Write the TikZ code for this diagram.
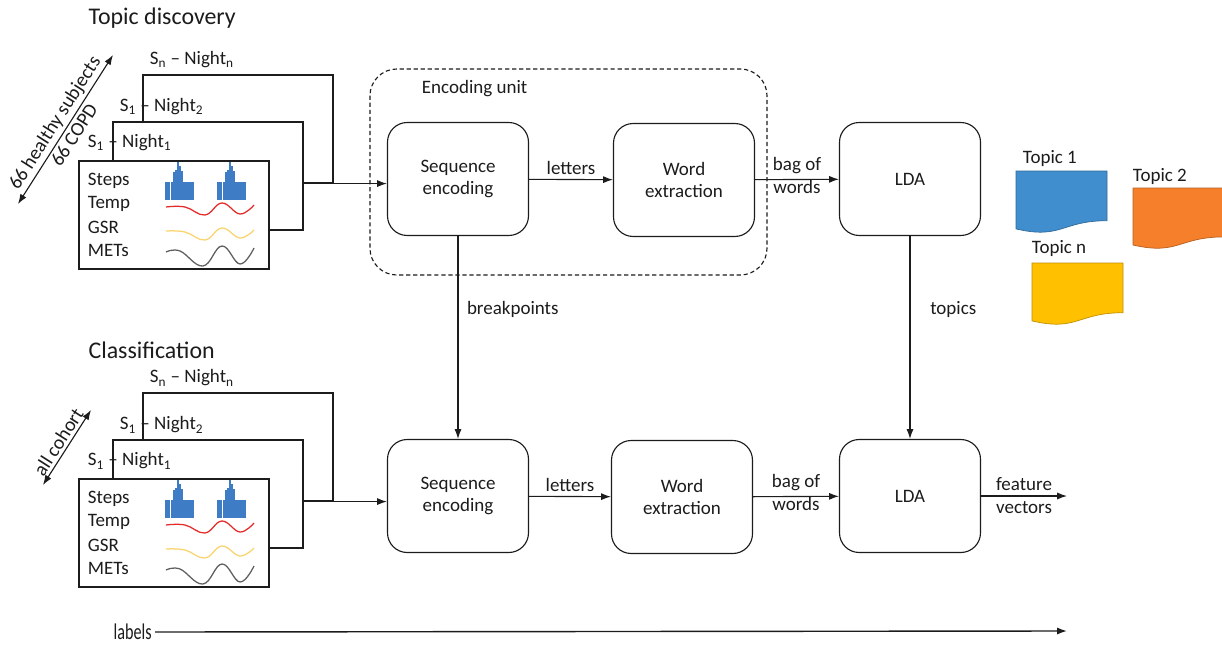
\documentclass[tikz,border=0pt]{standalone}
\usepackage{fontspec}
\setmainfont{Carlito}
\usetikzlibrary{arrows.meta,positioning}
\definecolor{barBlue}{RGB}{62,125,198}
\definecolor{tempRed}{RGB}{228,44,44}
\definecolor{gsrYellow}{RGB}{250,212,110}
\definecolor{metGray}{RGB}{95,95,95}
\definecolor{topicBlue}{RGB}{64,142,206}
\definecolor{topicOrange}{RGB}{245,127,42}
\definecolor{topicYellow}{RGB}{255,192,0}
\definecolor{inkDark}{RGB}{28,28,28}
\newcommand{\upx}{0.025cm}
\newcommand{\bodyfont}{\fontsize{13.5}{16.3}\selectfont}

\begin{document}
\begin{tikzpicture}[x=0.025cm, y=-0.025cm, line width=0.8pt, color=inkDark,
  sheet/.style={draw, fill=white, minimum width=190*\upx, minimum height=108*\upx, inner sep=0pt},
  block/.style={draw, rounded corners=14pt, minimum width=141*\upx, minimum height=113*\upx, align=center, font=\bodyfont},
  txt/.style={font=\bodyfont, inner sep=1pt},
  title/.style={font=\fontsize{17}{20}\selectfont, anchor=west, inner sep=0pt},
  alongtxt/.style={sloped, font=\fontsize{14}{16}\selectfont, inner sep=2pt},
  flow/.style={-{Latex[length=7pt,width=5pt]}},
  twoway/.style={{Latex[length=7pt,width=5pt]}-{Latex[length=7pt,width=5pt]}},
  topicdoc/.style={draw=#1!75!black, fill=#1, line width=0.5pt},
  group/.style={dash pattern=on 3pt off 2pt, rounded corners=19pt}]
  \useasboundingbox[fill=white] (0,0) rectangle (1222,644);

  % titles
  \node[title] (tdisc) at (88,18) {Topic discovery};
  \node[title] (tclass) at (88,350) {Classification};

  % encoding unit
  \draw[group] (370,69) rectangle (767,275);
  \node[txt, anchor=west] (encunit) at (420,89) {Encoding unit};

  % processing blocks
  \node[block] (seqt) at (458,179) {Sequence\\encoding};
  \node[block] (wordt) at (684,180) {Word\\extraction};
  \node[block] (ldat) at (910,179) {LDA};
  \node[block] (seqc) at (458,496) {Sequence\\encoding};
  \node[block] (wordc) at (682,497) {Word\\extraction};
  \node[block] (ldac) at (910,496) {LDA};

  % night stacks (top: discovery, bottom: classification)
  \foreach \s/\dy in {t/0, c/318}{
  \begin{scope}[shift={(0,\dy)}]
    \node[sheet] (back\s) at (238,129) {};
    \node[sheet] (mid\s) at (208,176) {};
    \node[sheet] (front\s) at (174,215) {};
    \node[txt, anchor=west] (nn\s) at (148,60) {S\textsubscript{n} -- Night\textsubscript{n}};
    \node[txt, anchor=west] (ntwo\s) at (118,107) {S\textsubscript{1} -- Night\textsubscript{2}};
    \node[txt, anchor=west] (none\s) at (86,143) {S\textsubscript{1} -- Night\textsubscript{1}};
    \node[txt, anchor=west] (steps\s) at (86,181) {Steps};
    \node[txt, anchor=west] (temp\s) at (86,204) {Temp};
    \node[txt, anchor=west] (gsr\s) at (86,227) {GSR};
    \node[txt, anchor=west] (mets\s) at (86,250) {METs};
    \foreach \bx in {0,52}
      \foreach \x/\w/\top in {0/2.6/182, 2.8/2.6/182, 5.6/2.6/182, 8.4/1.8/172, 10.4/1.6/170,
                              12.2/1.6/162, 14/1.6/166, 15.8/2.4/171, 18.4/2.6/182, 21.2/2.6/182,
                              24/2.6/182, 26.8/2.4/182}
        \fill[barBlue] (165+\bx+\x,200) rectangle ++(\w,\top-200);
    \draw[tempRed, line width=0.9pt] plot[smooth, tension=0.7] coordinates {(166,207) (185,207) (205,215) (222,203) (240,214) (254,205)};
    \draw[gsrYellow, line width=0.9pt] plot[smooth, tension=0.7] coordinates {(166,231) (185,232) (205,240) (222,228) (240,238) (254,230)};
    \draw[metGray, line width=0.9pt] plot[smooth, tension=0.7] coordinates {(166,252) (180,251) (203,266) (222,246) (240,264) (254,248)};
  \end{scope}
  \draw[flow] (back\s.south east) -- (back\s.south east -| seq\s.west);
  \draw[flow] (seq\s) -- node[txt, above=2pt] (let\s) {letters} (word\s);
  \draw[flow] (word\s) -- node[txt, align=center, yshift=3pt] (bow\s) {bag of\\words} (lda\s);
  }

  % cohort arrows
  \coordinate (cohortA) at (18,204);
  \coordinate (cohortB) at (113,55);
  \draw[twoway] (cohortA) -- node[alongtxt, above] (healthy) {66 healthy subjects}
    node[alongtxt, below] (copd) {66 COPD} (cohortB);
  \coordinate (allA) at (43,485);
  \coordinate (allB) at (91,410);
  \draw[twoway] (allA) -- node[alongtxt, above] (allcoh) {all cohort} (allB);

  % links between the two stages
  \draw[flow] (seqt) -- node[txt, right=5pt, pos=0.36] (bp) {breakpoints} (seqc);
  \draw[flow] (ldat) -- node[txt, right=13pt, pos=0.36] (tp) {topics} (ldac);
  \coordinate (fvend) at (1067,496);
  \draw[flow] (ldac.east) -- node[txt, align=center] (fv) {feature\\vectors} (fvend);

  % topics
  \node[txt, anchor=west] (topicone) at (1021,158) {Topic 1};
  \node[txt, anchor=west] (topictwo) at (1131,176) {Topic 2};
  \node[txt, anchor=west] (topicn) at (1030,248) {Topic n};
  \draw[topicdoc=topicBlue] (1016,171) -- (1107,171) -- (1107,220.7)
    .. controls (1061.5,220.7) and (1061.5,239.6) .. (1016,228.9) -- cycle;
  \draw[topicdoc=topicOrange] (1133,188) -- (1224,188) -- (1224,236.9)
    .. controls (1178.5,236.9) and (1178.5,255.5) .. (1133,245) -- cycle;
  \draw[topicdoc=topicYellow] (1032,263) -- (1123,263) -- (1123,312.7)
    .. controls (1077.5,312.7) and (1077.5,331.6) .. (1032,320.9) -- cycle;

  % labels
  \node[anchor=west, inner sep=0pt] (lbl) at (113,632) {\fontsize{16}{18}\selectfont\scalebox{0.72}[1]{labels}};
  \coordinate (lblend) at (1067,631);
  \draw[flow, line width=1pt] (lbl.east -| 155,0) -- (lblend);
\end{tikzpicture}
\end{document}
